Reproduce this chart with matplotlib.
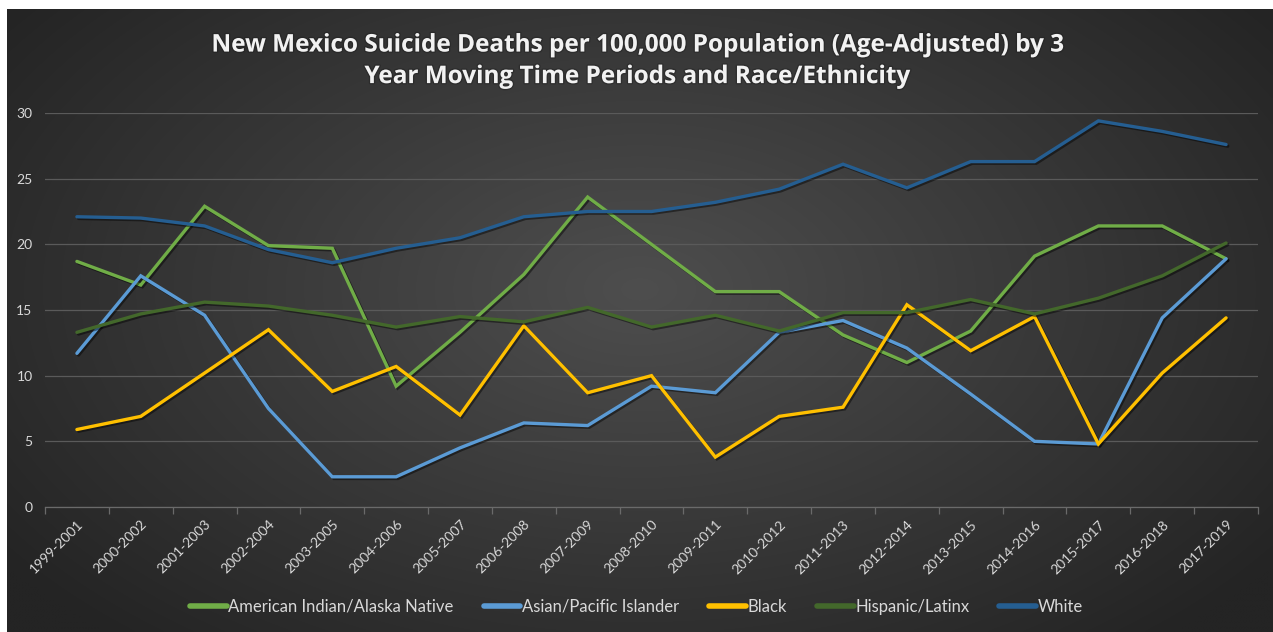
import numpy as np
import matplotlib
matplotlib.use("Agg")
import matplotlib.pyplot as plt
import matplotlib.patheffects as pe

periods = ["1999-2001", "2000-2002", "2001-2003", "2002-2004", "2003-2005",
           "2004-2006", "2005-2007", "2006-2008", "2007-2009", "2008-2010",
           "2009-2011", "2010-2012", "2011-2013", "2012-2014", "2013-2015",
           "2014-2016", "2015-2017", "2016-2018", "2017-2019"]

american_indian = [18.7, 16.9, 22.9, 19.9, 19.7, 9.2, 13.3, 17.7, 23.6, 20.0,
                   16.4, 16.4, 13.1, 11.0, 13.4, 19.1, 21.4, 21.4, 18.9]
asian_pacific = [11.7, 17.6, 14.6, 7.5, 2.3, 2.3, 4.5, 6.4, 6.2, 9.2,
                 8.7, 13.3, 14.2, 12.1, 8.6, 5.0, 4.8, 14.4, 18.9]
black = [5.9, 6.9, 10.2, 13.5, 8.8, 10.7, 7.0, 13.8, 8.7, 10.0,
         3.8, 6.9, 7.6, 15.4, 11.9, 14.5, 4.8, 10.2, 14.4]
hispanic = [13.3, 14.7, 15.6, 15.3, 14.6, 13.7, 14.5, 14.1, 15.2, 13.7,
            14.6, 13.4, 14.8, 14.8, 15.8, 14.7, 15.9, 17.6, 20.1]
white = [22.1, 22.0, 21.4, 19.6, 18.6, 19.7, 20.5, 22.1, 22.5, 22.5,
         23.2, 24.2, 26.1, 24.3, 26.3, 26.3, 29.4, 28.6, 27.6]

series_names = ["American Indian/Alaska Native", "Asian/Pacific Islander",
                "Black", "Hispanic/Latinx", "White"]
series_colors = ["#70AD47", "#5B9BD5", "#FFC000", "#43682B", "#255E91"]

plt.rcParams["font.family"] = ["Lato", "DejaVu Sans"]

W, H = 1273, 632
fig = plt.figure(figsize=(W / 100, H / 100), dpi=100, facecolor="white")

# dark chart area with a radial glow in the middle
bg = fig.add_axes([7 / W, 0, (W - 7) / W, (H - 9) / H])
yy, xx = np.mgrid[0:1:300j, 0:1:600j]
r = np.sqrt(((xx - 0.5) / 0.62) ** 2 + ((yy - 0.45) / 0.75) ** 2)
r = np.clip(r, 0, 1)
inner = np.array([0x4e, 0x4e, 0x4e]) / 255
outer = np.array([0x24, 0x24, 0x24]) / 255
grad = inner[None, None, :] * (1 - r[..., None]) + outer[None, None, :] * r[..., None]
bg.imshow(grad, aspect="auto", extent=[0, 1, 0, 1], interpolation="bilinear")
bg.set_axis_off()

ax = fig.add_axes([45 / W, (H - 507) / H, 1213 / W, 394 / H])
ax.patch.set_alpha(0)

x = np.arange(len(periods))
all_series = [american_indian, asian_pacific, black, hispanic, white]
shadow = [pe.SimpleLineShadow(offset=(1.2, -1.2), shadow_color="black", alpha=0.45),
          pe.Normal()]
for vals, name, color in zip(all_series, series_names, series_colors):
    ax.plot(x, vals, color=color, linewidth=2.4, label=name,
            solid_joinstyle="miter", solid_capstyle="round", path_effects=shadow)

ax.set_xlim(-0.5, len(periods) - 0.5)
ax.set_ylim(0, 30)
ax.set_yticks(range(0, 31, 5))
ax.grid(axis="y", color="#5a5a5a", linewidth=0.9)
ax.set_axisbelow(True)
for side in ["top", "right", "left"]:
    ax.spines[side].set_visible(False)
ax.spines["bottom"].set_color("#6a6a6a")
ax.spines["bottom"].set_linewidth(0.9)

# category boundaries get the ticks, labels sit under the category centres
ax.set_xticks(np.arange(-0.5, len(periods), 1.0))
ax.set_xticklabels([])
ax.set_xticks(x, minor=True)
ax.set_xticklabels(periods, minor=True, rotation=45, ha="right",
                   rotation_mode="anchor", color="#d9d9d9", fontsize=10)
ax.tick_params(axis="x", which="major", length=5, color="#6a6a6a", width=0.9)
ax.tick_params(axis="x", which="minor", length=0, pad=8)
ax.tick_params(axis="y", length=0, colors="#d9d9d9", labelsize=10, pad=9)

title = fig.text(0.5, 0.903,
                 "New Mexico Suicide Deaths per 100,000 Population (Age-Adjusted) by 3\n"
                 "Year Moving Time Periods and Race/Ethnicity",
                 ha="center", va="center", color="#f2f2f2", fontsize=17.5,
                 fontweight="bold", linespacing=1.42,
                 family=["Open Sans", "DejaVu Sans"])
title.set_path_effects([pe.withStroke(linewidth=2, foreground="#1a1a1a", alpha=0.35)])

leg = fig.legend(loc="center", bbox_to_anchor=(0.5, (H - 607) / H), ncol=5,
                 frameon=False, fontsize=12, handlelength=2.2, handletextpad=0.1,
                 columnspacing=1.8)
for txt in leg.get_texts():
    txt.set_color("#d9d9d9")
for line in leg.get_lines():
    line.set_linewidth(4)
    line.set_path_effects([])

fig.savefig("out.png", dpi=100, facecolor="white")
